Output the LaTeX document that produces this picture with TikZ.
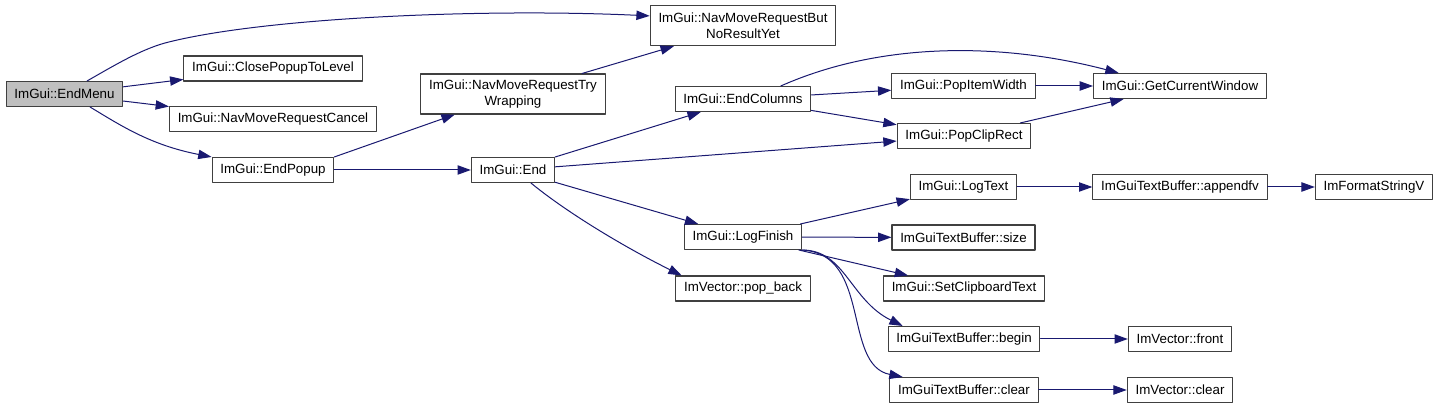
\documentclass[tikz,border=0pt]{standalone}
\usepackage{fontspec}
\setmainfont{Liberation Sans}
\usetikzlibrary{arrows.meta}
\definecolor{edgeblue}{HTML}{191970}
\definecolor{callgray}{HTML}{BFBFBF}
\definecolor{boxline}{HTML}{404040}

\begin{document}
\begin{tikzpicture}[x=0.75pt,y=-0.75pt,>={Triangle[length=10pt,width=7pt]},
  line cap=round,line join=round,
  fn/.style={draw=boxline,line width=0.8pt,fill=white,inner xsep=6.2pt,
    minimum height=18.75pt,font=\fontsize{10}{11.8}\selectfont,align=center},
  fntwo/.style={fn,minimum height=30pt},
  edge/.style={->,edgeblue,line width=0.75pt}]
 \useasboundingbox (0,0) rectangle (1440,409);
 % Caller and its direct callees.
 \node[fn,fill=callgray] (endmenu) at (64.5,94) {ImGui::EndMenu};
 \node[fn] (closepopup) at (273,68.5) {ImGui::ClosePopupToLevel};
 \node[fn] (navcancel) at (273,119) {ImGui::NavMoveRequestCancel};
 \node[fn] (endpopup) at (273,170) {ImGui::EndPopup};
 \node[fntwo] (trywrap) at (513,94) {ImGui::NavMoveRequestTry\\Wrapping};
 \node[fntwo] (butnoresult) at (743,25.7) {ImGui::NavMoveRequestBut\\NoResultYet};
 \node[fn] (imend) at (513,170) {ImGui::End};
 % Callees of End.
 \node[fn] (endcolumns) at (743,99) {ImGui::EndColumns};
 \node[fn] (logfinish) at (743,237) {ImGui::LogFinish};
 \node[fn] (popback) at (743,288.5) {ImVector::pop\_back};
 \node[fn] (popitem) at (963.5,86) {ImGui::PopItemWidth};
 \node[fn] (popclip) at (964,136) {ImGui::PopClipRect};
 \node[fn] (logtext) at (963.5,187) {ImGui::LogText};
 \node[fn] (tbsize) at (963.5,237.5) {ImGuiTextBuffer::size};
 \node[fn] (setclip) at (964,288.5) {ImGui::SetClipboardText};
 \node[fn] (tbbegin) at (964,339) {ImGuiTextBuffer::begin};
 \node[fn] (tbclear) at (964,390) {ImGuiTextBuffer::clear};
 % Leaves on the right.
 \node[fn] (getwin) at (1180,86) {ImGui::GetCurrentWindow};
 \node[fn] (appendfv) at (1180,187) {ImGuiTextBuffer::appendfv};
 \node[fn] (vfront) at (1180,339) {ImVector::front};
 \node[fn] (vclear) at (1180,390) {ImVector::clear};
 \node[fn] (formatv) at (1374,187) {ImFormatStringV};
 % Calls from EndMenu and EndPopup.
 \draw[edge] (endmenu.30) .. controls (115,65) and (140,50) .. (165,43)
  .. controls (260,18) and (480,8) .. (butnoresult.174);
 \draw[edge] (endmenu) -- (closepopup);
 \draw[edge] (endmenu) -- (navcancel);
 \draw[edge] (endmenu.-27) .. controls (120,125) and (150,145) .. (endpopup.north west);
 \draw[edge] (endpopup.12) -- (trywrap);
 \draw[edge] (endpopup) -- (imend);
 \draw[edge] (trywrap) -- (butnoresult);
 % Calls from End.
 \draw[edge] (imend) -- (endcolumns);
 \draw[edge] (imend) -- (popclip);
 \draw[edge] (imend) -- (logfinish);
 \draw[edge] (imend.-36) .. controls (570,215) and (630,250) .. (popback.168);
 \draw[edge] (endcolumns.19) .. controls (880,42) and (1000,42) .. (getwin.168);
 \draw[edge] (endcolumns) -- (popitem);
 \draw[edge] (endcolumns) -- (popclip);
 \draw[edge] (popitem) -- (getwin);
 \draw[edge] (popclip) -- (getwin);
 % Calls from LogFinish.
 \draw[edge] (logfinish) -- (logtext);
 \draw[edge] (logfinish) -- (tbsize);
 \draw[edge] (logfinish) -- (setclip);
 \draw[edge] (logfinish.south east) .. controls (845,250) and (850,300) .. (tbbegin.168);
 \draw[edge] (logfinish.south east) .. controls (872,254) and (842,365) .. (tbclear.168);
 \draw[edge] (logtext) -- (appendfv);
 \draw[edge] (appendfv) -- (formatv);
 \draw[edge] (tbbegin) -- (vfront);
 \draw[edge] (tbclear) -- (vclear);
\end{tikzpicture}
\end{document}
